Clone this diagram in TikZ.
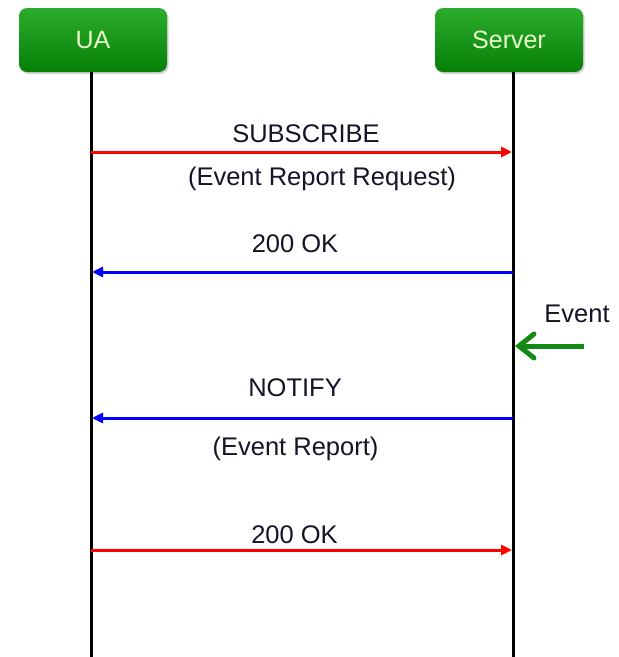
\documentclass[tikz,border=0pt]{standalone}
\usepackage{fontspec}
\setmainfont{Liberation Sans}
\usetikzlibrary{arrows.meta,shadows}
\definecolor{boxtop}{RGB}{44,172,44}
\definecolor{boxbot}{RGB}{6,128,6}
\definecolor{boxtext}{RGB}{232,255,205}
\definecolor{msgred}{RGB}{255,0,0}
\definecolor{msgblue}{RGB}{0,0,255}
\definecolor{evgreen}{RGB}{20,138,20}
\definecolor{labeltext}{RGB}{20,20,40}
\tikzset{
  entity/.style={rounded corners=8pt, minimum width=148pt, minimum height=64pt,
    top color=boxtop, bottom color=boxbot, draw=none, text=boxtext,
    font=\fontsize{25}{30}\selectfont,
    drop shadow={opacity=0.35, shadow xshift=1.5pt, shadow yshift=-2pt}},
  lifeline/.style={line width=3pt, black},
  msg/.style={line width=3pt, -{Triangle[length=11pt,width=10pt]}},
  lbl/.style={anchor=base, inner sep=0pt, text=labeltext, font=\fontsize{25.5}{30}\selectfont},
}
\begin{document}
\begin{tikzpicture}[x=1pt,y=-1pt]
  \useasboundingbox (0,0) rectangle (619,657);

  % participants
  \node[entity] (ua)  at (93,40)  {UA};
  \node[entity] (srv) at (509,40) {Server};

  % lifelines
  \coordinate (uaTop)  at (91,72);
  \coordinate (uaEnd)  at (91,657);
  \coordinate (srvTop) at (513.5,72);
  \coordinate (srvEnd) at (513.5,657);
  \draw[lifeline] (uaTop) -- (uaEnd);
  \draw[lifeline] (srvTop) -- (srvEnd);

  % message endpoints on the lifelines
  \coordinate (uaA)  at (91,152);  \coordinate (srvA) at (512,152);
  \coordinate (uaB)  at (92,272);  \coordinate (srvB) at (513,272);
  \coordinate (uaC)  at (92,418);  \coordinate (srvC) at (513,418);
  \coordinate (uaD)  at (91,550);  \coordinate (srvD) at (512,550);

  % SUBSCRIBE
  \draw[msg, msgred] (uaA) -- (srvA);
  \node[lbl] (subLbl) at (306,142) {SUBSCRIBE};
  \node[lbl] (subNote) at (322,185) {(Event Report Request)};

  % 200 OK
  \draw[msg, msgblue] (srvB) -- (uaB);
  \node[lbl] (okA) at (295,252) {200 OK};

  % external event
  \coordinate (evStart) at (584,346);
  \coordinate (evTip) at (515,346);
  \draw[evgreen, line width=5pt, -{Straight Barb[length=15pt,width=24pt,line cap=round]}] (evStart) -- (evTip);
  \node[lbl] (evLbl) at (577,322) {Event};

  % NOTIFY
  \draw[msg, msgblue] (srvC) -- (uaC);
  \node[lbl] (ntLbl) at (295,396) {NOTIFY};
  \node[lbl] (ntNote) at (295.5,455) {(Event Report)};

  % 200 OK
  \draw[msg, msgred] (uaD) -- (srvD);
  \node[lbl] (okB) at (294.5,543) {200 OK};
\end{tikzpicture}
\end{document}
